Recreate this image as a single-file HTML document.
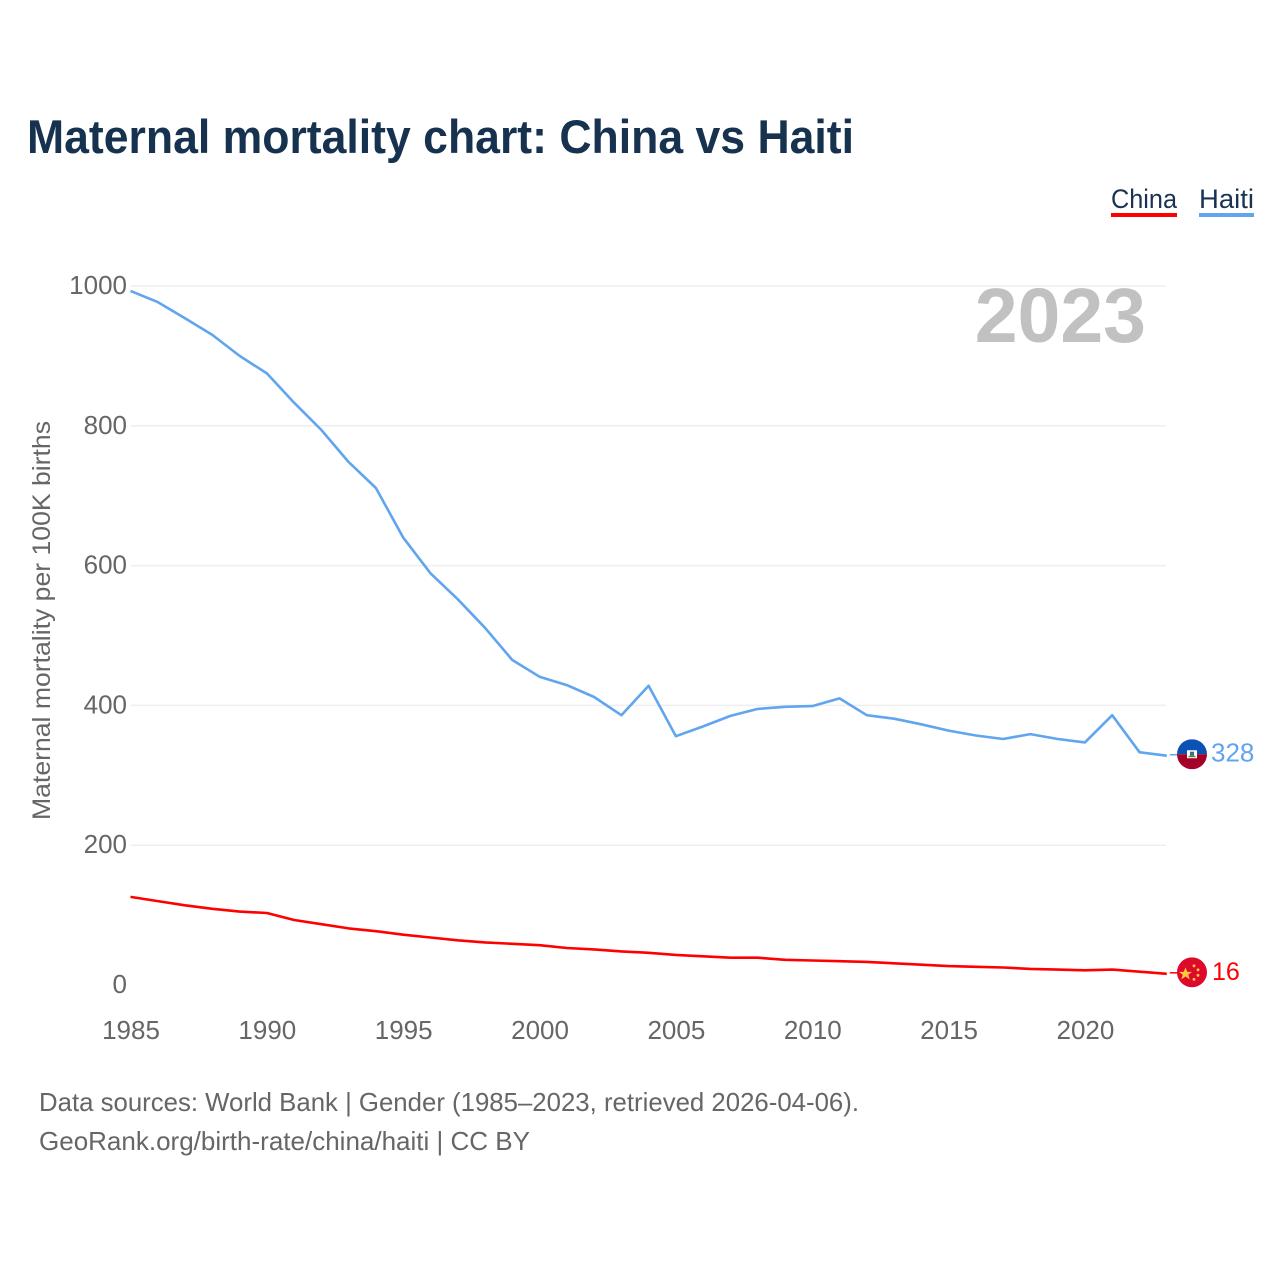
<!DOCTYPE html>
<html lang="en">
<head>
<meta charset="utf-8">
<title>Maternal mortality chart: China vs Haiti</title>
<style>
html,body{margin:0;padding:0;background:#fff;}
svg{display:block;}
text{font-family:"Liberation Sans",sans-serif;}
.tick{font-size:26px;fill:#666;}
.foot{font-size:26px;fill:#666;}
.leg{font-size:27px;fill:#1a3353;}
</style>
</head>
<body>
<svg id="chart" width="1280" height="1280" viewBox="0 0 1280 1280" xmlns="http://www.w3.org/2000/svg">
<rect width="1280" height="1280" fill="#fff"/>
<text x="27" y="153" font-size="47" font-weight="700" fill="#17324f" textLength="827" lengthAdjust="spacingAndGlyphs">Maternal mortality chart: China vs Haiti</text>
<g>
<text class="leg" x="1111" y="208" textLength="66" lengthAdjust="spacingAndGlyphs">China</text>
<rect x="1111" y="213" width="66" height="4" fill="#ff0000"/>
</g>
<g>
<text class="leg" x="1199" y="208" textLength="55" lengthAdjust="spacingAndGlyphs">Haiti</text>
<rect x="1199" y="213" width="55" height="4" fill="#60a5ee"/>
</g>
<g id="grid"></g>
<g id="yticks"></g>
<g id="xticks"></g>
<text x="1146" y="342" text-anchor="end" font-size="77" font-weight="700" fill="#c1c1c1">2023</text>
<text transform="translate(50,620.5) rotate(-90)" text-anchor="middle" font-size="25" fill="#666" textLength="399" lengthAdjust="spacingAndGlyphs">Maternal mortality per 100K births</text>
<polyline id="line-haiti" fill="none" stroke="#60a5ee" stroke-width="2.6" stroke-linejoin="round"></polyline>
<polyline id="line-china" fill="none" stroke="#ff0000" stroke-width="2.6" stroke-linejoin="round"></polyline>
<line id="leader-haiti" stroke="#60a5ee" stroke-width="1.5"></line>
<line id="leader-china" stroke="#ff0000" stroke-width="1.5"></line>
<defs>
<clipPath id="flag-clip"><circle cx="0" cy="0" r="15"/></clipPath>
</defs>
<g id="flag-haiti">
<g clip-path="url(#flag-clip)">
<rect x="-15" y="-15" width="30" height="15" fill="#0b52b4"/>
<rect x="-15" y="0" width="30" height="15" fill="#a5002a"/>
<rect x="-5" y="-4" width="10" height="8" fill="#fff"/>
<rect x="-2" y="-2.5" width="4" height="4" fill="#3c6a8c"/>
<rect x="-3.5" y="1.5" width="7" height="1.5" fill="#4f8a3c"/>
</g>
</g>
<g id="flag-china">
<g clip-path="url(#flag-clip)">
<rect x="-15" y="-15" width="30" height="30" fill="#de0a2b"/>
<polygon points="-6.5,-5 -4.7,-0.4 0,-0.4 -3.7,2.4 -2.3,7 -6.5,4.2 -10.7,7 -9.3,2.4 -13,-0.4 -8.3,-0.4" fill="#ffc83d"/>
<circle cx="2" cy="-6.5" r="1.4" fill="#ffc83d"/>
<circle cx="6" cy="-2.5" r="1.4" fill="#ffc83d"/>
<circle cx="6" cy="3" r="1.4" fill="#ffc83d"/>
<circle cx="2" cy="7" r="1.4" fill="#ffc83d"/>
</g>
</g>
<text id="value-haiti" x="1211" font-size="26" fill="#60a5ee"></text>
<text id="value-china" x="1212" font-size="25" fill="#ff0000"></text>
<text class="foot" x="39" y="1111" textLength="820" lengthAdjust="spacingAndGlyphs">Data sources: World Bank | Gender (1985–2023, retrieved 2026-04-06).</text>
<text class="foot" x="39" y="1150" textLength="491" lengthAdjust="spacingAndGlyphs">GeoRank.org/birth-rate/china/haiti | CC BY</text>
</svg>
<script>
const years = [1985,1986,1987,1988,1989,1990,1991,1992,1993,1994,1995,1996,1997,1998,1999,2000,2001,2002,2003,2004,2005,2006,2007,2008,2009,2010,2011,2012,2013,2014,2015,2016,2017,2018,2019,2020,2021,2022,2023];
const haitiValues = [993,977,954,930,900,875,833,794,748,711,640,589,552,511,465,441,429,412,386,428,356,370,385,395,398,399,410,386,381,373,364,357,352,359,352,347,386,333,328];
const chinaValues = [126,120,114,109,105,103,93,87,81,77,72,68,64,61,59,57,53,51,48,46,43,41,39,39,36,35,34,33,31,29,27,26,25,23,22,21,22,19,16];
const yTickValues = [0,200,400,600,800,1000];
const xTickValues = [1985,1990,1995,2000,2005,2010,2015,2020];

const NS = 'http://www.w3.org/2000/svg';
function xScale(year){ return 130.5 + (year - 1985) * 27.27; }
function yScale(value){ return 985 - value * 0.699; }

const gridGroup = document.getElementById('grid');
const yTickGroup = document.getElementById('yticks');
const xTickGroup = document.getElementById('xticks');

yTickValues.forEach(function(v){
  if (v > 0) {
    const ln = document.createElementNS(NS, 'line');
    ln.setAttribute('x1', 131);
    ln.setAttribute('x2', 1166);
    ln.setAttribute('y1', yScale(v));
    ln.setAttribute('y2', yScale(v));
    ln.setAttribute('stroke', '#eeeeee');
    ln.setAttribute('stroke-width', '1.5');
    
    
    gridGroup.appendChild(ln);
  }
  const t = document.createElementNS(NS, 'text');
  t.setAttribute('x', 127);
  t.setAttribute('y', yScale(v) + 8);
  t.setAttribute('text-anchor', 'end');
  t.setAttribute('class', 'tick');
  t.textContent = String(v);
  
  
  yTickGroup.appendChild(t);
});

xTickValues.forEach(function(v){
  const t = document.createElementNS(NS, 'text');
  t.setAttribute('x', xScale(v) + 0.5);
  t.setAttribute('y', 1039);
  t.setAttribute('text-anchor', 'middle');
  t.setAttribute('class', 'tick');
  t.textContent = String(v);
  
  
  xTickGroup.appendChild(t);
});

function points(values){
  return values.map(function(v, i){ return xScale(years[i]).toFixed(1) + ',' + yScale(v).toFixed(1); }).join(' ');
}
document.getElementById('line-haiti').setAttribute('points', points(haitiValues));
document.getElementById('line-china').setAttribute('points', points(chinaValues));

function endMarker(key, values, labelOffset){
  const last = values[values.length - 1];
  const endX = xScale(years[years.length - 1]);
  const endY = yScale(last);
  const flagY = endY - 1.5;
  const leader = document.getElementById('leader-' + key);
  leader.setAttribute('x1', endX + 3);
  leader.setAttribute('x2', 1178);
  leader.setAttribute('y1', flagY + 0.5);
  leader.setAttribute('y2', flagY + 0.5);
  document.getElementById('flag-' + key).setAttribute('transform', 'translate(1192,' + flagY + ')');
  const label = document.getElementById('value-' + key);
  label.setAttribute('y', flagY + labelOffset);
  label.textContent = String(last);
}
endMarker('haiti', haitiValues, 7.5);
endMarker('china', chinaValues, 7.5);
</script>
</body>
</html>
